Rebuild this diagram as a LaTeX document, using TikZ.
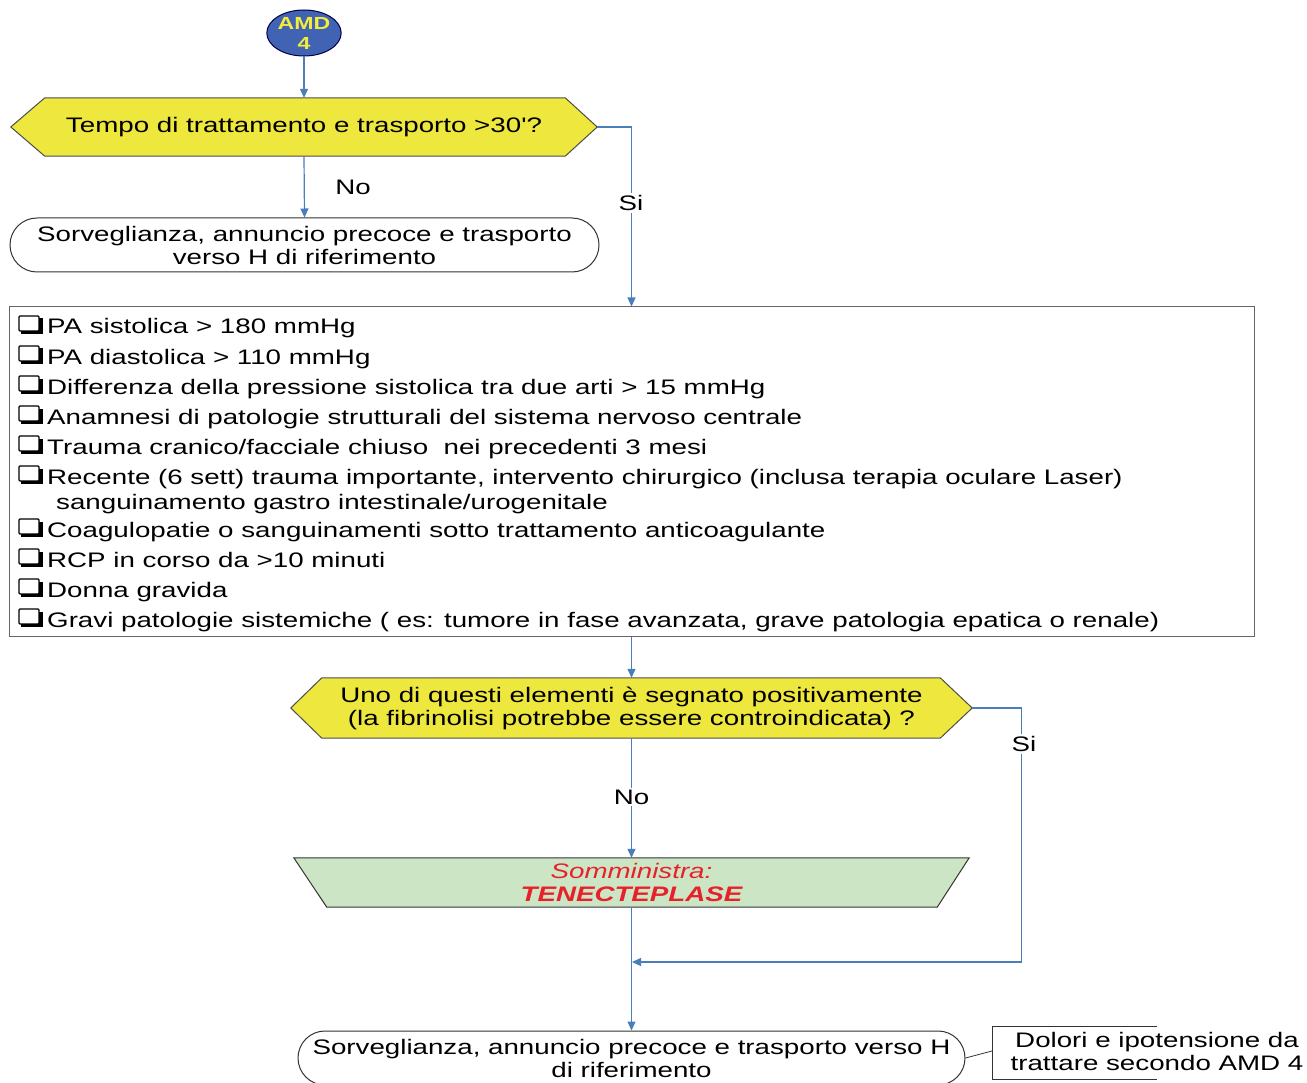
\documentclass[tikz,border=0pt]{standalone}
\usepackage{fontspec}
\setmainfont{Liberation Sans}[FakeStretch=1.32, Ligatures=TeXOff]
\usetikzlibrary{arrows.meta,backgrounds,shapes.geometric}
\definecolor{lineblue}{HTML}{4A7EBB}
\definecolor{hexyellow}{HTML}{EEE83E}
\definecolor{circblue}{HTML}{4163B4}
\definecolor{trapgreen}{HTML}{CCE5C4}
\definecolor{redtxt}{HTML}{E8202A}
\definecolor{amdyellow}{HTML}{F2EC3A}
\begin{document}
\begin{tikzpicture}[x=1pt,y=-1pt,
  txt/.style={font=\fontsize{21}{23}\selectfont, inner sep=0pt, align=center},
  conn/.style={draw=lineblue, line width=1.2pt},
  arr/.style={conn, -{Triangle[length=9pt,width=8pt]}},
  shapebox/.style={txt, rectangle, minimum width=#1},
  hexfill/.style={fill=hexyellow, draw=black!70, line width=1pt},
  stadium/.style={txt, rectangle, draw=black!80, line width=1pt, rounded corners=27pt},
  lbl/.style={txt},
  lbly/.style={txt, fill=white, inner sep=2pt},
  item/.style={font=\fontsize{21}{23}\selectfont, inner sep=0pt, anchor=base west},
  ckbox/.style={draw=black, line width=1.4pt, rounded corners=1pt},
]
\useasboundingbox (0,0) rectangle (1307,1083);

% start circle
\node[ellipse, draw=black!70!blue, line width=1pt, fill=circblue, minimum width=65pt, minimum height=46pt, inner sep=0pt,
      text=amdyellow, font=\fontsize{17.5}{20}\selectfont\bfseries, align=center] (amd) at (304,33) {AMD\\4};

% question 1
\node[shapebox=586pt, minimum height=58pt] (q1) at (304,127) {Tempo di trattamento e trasporto >30'?};
\begin{scope}[on background layer]
\path[hexfill] (q1.west) -- ([xshift=34pt]q1.north west) -- ([xshift=-32pt]q1.north east) -- (q1.east)
  -- ([xshift=-32pt]q1.south east) -- ([xshift=34pt]q1.south west) -- cycle;
\end{scope}

% outcome 1
\node[stadium, minimum width=589pt, minimum height=54pt] (s1) at (304.5,245) {Sorveglianza, annuncio precoce e trasporto\\verso H di riferimento};

% list box
\node[rectangle, draw=black!60, line width=1pt, minimum width=1245pt, minimum height=329pt, inner sep=0pt] (box) at (631.5,471.5) {};
\node[item] (l1) at (47,334) {PA sistolica > 180 mmHg};
\node[item] (l2) at (47,364) {PA diastolica > 110 mmHg};
\node[item] (l3) at (47,394) {Differenza della pressione sistolica tra due arti > 15 mmHg};
\node[item] (l4) at (47,424) {Anamnesi di patologie strutturali del sistema nervoso centrale};
\node[item] (l5) at (47,454) {Trauma cranico/facciale chiuso\ \ nei precedenti 3 mesi};
\node[item] (l6) at (47,484) {Recente (6 sett) trauma importante, intervento chirurgico (inclusa terapia oculare Laser)};
\node[item] (l6b) at (56,509) {sanguinamento gastro intestinale/urogenitale};
\node[item] (l7) at (47,537) {Coagulopatie o sanguinamenti sotto trattamento anticoagulante};
\node[item] (l8) at (47,567) {RCP in corso da >10 minuti};
\node[item] (l9) at (47,597) {Donna gravida};
\node[item] (l10) at (47,627) {Gravi patologie sistemiche ( es: tumore in fase avanzata, grave patologia epatica o renale)};
\foreach \c in {326,356,386,416,446,476,529,559,589,619}{
  \draw[ckbox] (19,\c-10) rectangle (39,\c+5);
  \fill[black] (21,\c+5) rectangle (42.5,\c+8);
  \fill[black] (39,\c-7.5) rectangle (42.5,\c+8);
}

% question 2
\node[shapebox=681pt, minimum height=60pt] (q2) at (631.5,708) {Uno di questi elementi è segnato positivamente\\(la fibrinolisi potrebbe essere controindicata) ?};
\begin{scope}[on background layer]
\path[hexfill] (q2.west) -- ([xshift=31pt]q2.north west) -- ([xshift=-32pt]q2.north east) -- (q2.east)
  -- ([xshift=-32pt]q2.south east) -- ([xshift=31pt]q2.south west) -- cycle;
\end{scope}

% trapezoid
\node[shapebox=675pt, minimum height=49pt, text=redtxt] (tz) at (631.5,882.5) {\itshape Somministra:\\\bfseries\itshape TENECTEPLASE};
\begin{scope}[on background layer]
\path[fill=trapgreen, draw=black!80, line width=1pt] (tz.north west) -- (tz.north east)
  -- ([xshift=-32pt]tz.south east) -- ([xshift=33pt]tz.south west) -- cycle;
\end{scope}

% outcome 2
\node[stadium, minimum width=667pt, minimum height=54pt] (s2) at (631.5,1058) {Sorveglianza, annuncio precoce e trasporto verso H\\di riferimento};

% annotation
\node[txt] (ann) at (1157,1051.5) {Dolori e ipotensione da\\trattare secondo AMD 4};
\draw[black!80, line width=1pt] (1157,1026) -- (992,1026) -- (992,1079) -- (1157,1079);
\coordinate (annL) at (992,1051);
\draw[black!80, line width=0.8pt] (s2.east) -- (annL);

% connectors
\draw[arr] (amd.south) -- (q1.north);
\draw[arr] (q1.south) -- (s1.north);
\node[lbl] (no1) at (353,187) {No};
\draw[arr] (q1.east) -| (box.north);
\node[lbly] (si1) at (631,203) {Si};
\draw[arr] (box.south) -- (q2.north);
\draw[arr] (q2.south) -- (tz.north);
\node[lbly] (no2) at (631.5,797) {No};
\coordinate (join) at (632,962);
\draw[arr] (q2.east) -- ++(49,0) |- (join);
\node[lbly] (si2) at (1024,744) {Si};
\draw[arr] (tz.south) -- (s2.north);
\end{tikzpicture}
\end{document}
